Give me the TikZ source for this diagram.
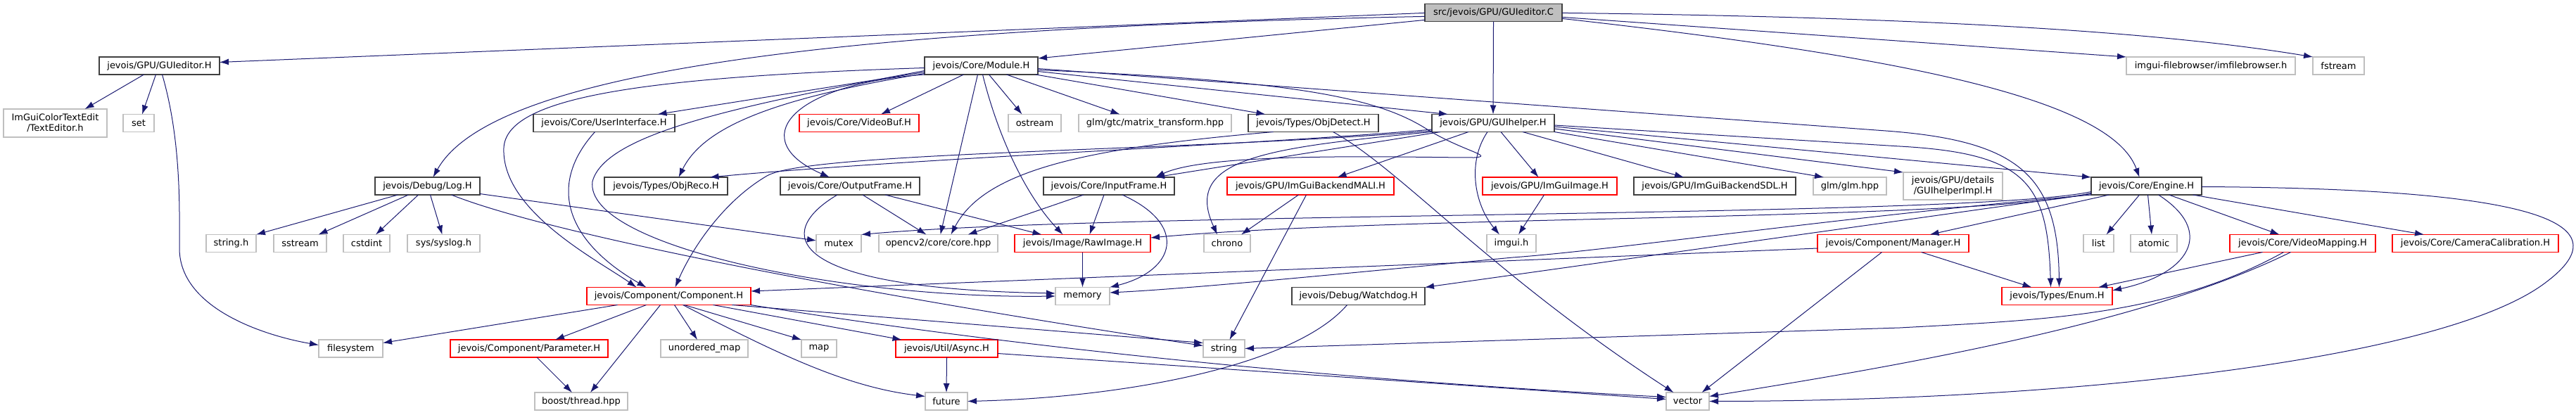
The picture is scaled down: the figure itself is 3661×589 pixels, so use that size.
\documentclass[tikz,border=0pt]{standalone}
\usepackage{fontspec}
\setmainfont{DejaVu Sans}
\usepackage{tikz}
\usetikzlibrary{arrows.meta,positioning}
\definecolor{dotblue}{HTML}{191970}
\definecolor{dotdark}{HTML}{404040}
\definecolor{dotlight}{HTML}{BFBFBF}

\begin{document}
\begin{tikzpicture}[
  x=1pt, y=-1pt,
  font=\fontsize{13pt}{15pt}\selectfont,
  hdr/.style={draw=dotdark, line width=1.1pt, fill=white, align=center, minimum height=25pt, inner xsep=1pt, inner ysep=1pt, outer sep=0pt},
  cuthdr/.style={hdr, draw=red},
  syshdr/.style={hdr, draw=dotlight},
  srchdr/.style={hdr, fill=dotlight},
  dep/.style={-{Latex[length=13pt,width=9pt]}, draw=dotblue, line width=1pt}
]
\useasboundingbox (0,0) rectangle (3661,589);

\node[srchdr, minimum width=195pt] (root) at (2122.5,18.4) {src/jevois/GPU/GUIeditor.C};

\node[hdr, minimum width=171pt] (gedh) at (226.5,93.5) {jevois/GPU/GUIeditor.H};
\node[hdr, minimum width=161pt, right=1002pt of gedh] (module) {jevois/Core/Module.H};
\node[syshdr, minimum width=240pt, right=1547pt of module] (filebr) {imgui-filebrowser/imfilebrowser.h};
\node[syshdr, minimum width=73pt, right=25pt of filebr] (fstream) {fstream};

\node[syshdr, minimum width=147pt, minimum height=40pt] (texted) at (78.5,175) {ImGuiColorTextEdit\\/TextEditor.h};
\node[syshdr, minimum width=44pt, right=23pt of texted] (set) {set};
\node[hdr, minimum width=201pt, right=539pt of set] (uiface) {jevois/Core/UserInterface.H};
\node[cuthdr, minimum width=170pt, right=177pt of uiface] (videobuf) {jevois/Core/VideoBuf.H};
\node[syshdr, minimum width=75pt, right=127pt of videobuf] (ostream) {ostream};
\node[syshdr, minimum width=217pt, right=25pt of ostream] (glmgtc) {glm/gtc/matrix\_transform.hpp};
\node[hdr, minimum width=185pt, right=24pt of glmgtc] (objdetect) {jevois/Types/ObjDetect.H};
\node[hdr, minimum width=174pt, right=76pt of objdetect] (guihelper) {jevois/GPU/GUIhelper.H};

\node[hdr, minimum width=149pt] (log) at (607.5,264.5) {jevois/Debug/Log.H};
\node[hdr, minimum width=175pt, right=177pt of log] (objreco) {jevois/Types/ObjReco.H};
\node[hdr, minimum width=198pt, right=75pt of objreco] (outframe) {jevois/Core/OutputFrame.H};
\node[hdr, minimum width=186pt, right=176pt of outframe] (inframe) {jevois/Core/InputFrame.H};
\node[cuthdr, minimum width=237pt, right=75pt of inframe] (mali) {jevois/GPU/ImGuiBackendMALI.H};
\node[cuthdr, minimum width=191pt, right=126pt of mali] (imguiimg) {jevois/GPU/ImGuiImage.H};
\node[hdr, minimum width=230pt, right=24pt of imguiimg] (sdl) {jevois/GPU/ImGuiBackendSDL.H};
\node[syshdr, minimum width=104pt, right=25pt of sdl] (glm) {glm/glm.hpp};
\node[syshdr, minimum width=141pt, minimum height=39pt, right=24pt of glm] (guiimpl) {jevois/GPU/details\\/GUIhelperImpl.H};
\node[hdr, minimum width=157pt, right=126pt of guiimpl] (engine) {jevois/Core/Engine.H};

\node[syshdr, minimum width=71pt] (stringh) at (328.5,346) {string.h};
\node[syshdr, minimum width=75pt, right=25pt of stringh] (sstream) {sstream};
\node[syshdr, minimum width=66pt, right=24pt of sstream] (cstdint) {cstdint};
\node[syshdr, minimum width=103pt, right=25pt of cstdint] (syslog) {sys/syslog.h};
\node[syshdr, minimum width=64pt, right=478pt of syslog] (mutex) {mutex};
\node[syshdr, minimum width=169pt, right=25pt of mutex] (cvcore) {opencv2/core/core.hpp};
\node[cuthdr, minimum width=193pt, right=24pt of cvcore] (rawimage) {jevois/Image/RawImage.H};
\node[syshdr, minimum width=66pt, right=76pt of rawimage] (chrono) {chrono};
\node[syshdr, minimum width=70pt, right=336pt of chrono] (imguih) {imgui.h};
\node[cuthdr, minimum width=215pt, right=400pt of imguih] (manager) {jevois/Component/Manager.H};
\node[syshdr, minimum width=43pt, right=163pt of manager] (list) {list};
\node[syshdr, minimum width=66pt, right=24pt of list] (atomic) {atomic};
\node[cuthdr, minimum width=207pt, right=75pt of atomic] (vmapping) {jevois/Core/VideoMapping.H};
\node[cuthdr, minimum width=236pt, right=24pt of vmapping] (camcal) {jevois/Core/CameraCalibration.H};

\node[cuthdr, minimum width=233pt] (component) at (950.5,421) {jevois/Component/Component.H};
\node[syshdr, minimum width=77pt, right=433pt of component] (memory) {memory};
\node[hdr, minimum width=189pt, right=259pt of memory] (watchdog) {jevois/Debug/Watchdog.H};
\node[cuthdr, minimum width=157pt, right=820pt of watchdog] (enum) {jevois/Types/Enum.H};

\node[syshdr, minimum width=91pt] (filesystem) at (498.5,495.5) {filesystem};
\node[cuthdr, minimum width=224pt, right=96pt of filesystem] (parameter) {jevois/Component/Parameter.H};
\node[syshdr, minimum width=124pt, right=75pt of parameter] (unordmap) {unordered\_map};
\node[syshdr, minimum width=50pt, right=76pt of unordmap] (map) {map};
\node[cuthdr, minimum width=145pt, right=84pt of map] (async) {jevois/Util/Async.H};
\node[syshdr, minimum width=59pt, right=292pt of async] (string) {string};

\node[syshdr, minimum width=132pt] (boost) at (826,570.5) {boost/thread.hpp};
\node[syshdr, minimum width=60pt, right=423pt of boost] (future) {future};
\node[syshdr, minimum width=61pt, right=993pt of future] (vector) {vector};

\draw[dep] (root.west) -- ([yshift=5pt]gedh.east);
\draw[dep] ([yshift=-5pt]root.west) .. controls (1200,40) and (700,100) .. ([xshift=8pt]log.north);
\draw[dep] ([yshift=-10pt]root.west) -- ([yshift=-2pt]module.north east);
\draw[dep] (root.south) -- (guihelper.north);
\draw[dep] ([yshift=-6pt]root.east) -- (filebr.north west);
\draw[dep] (root.east) .. controls (2800,25) and (3100,50) .. (fstream.north west);
\draw[dep] ([yshift=-8pt]root.east) .. controls (2700,80) and (3000,140) .. ([xshift=-10pt]engine.north);

\draw[dep] ([xshift=-22pt]gedh.south) -- ([xshift=42pt]texted.north);
\draw[dep] ([xshift=-5pt]gedh.south) -- ([xshift=5pt]set.north);
\draw[dep] ([xshift=4pt]gedh.south) .. controls (258,200) and (255,300) .. (255,353) .. controls (255,440) and (380,478) .. ([yshift=5pt]filesystem.west);

\draw[dep] ([yshift=-3pt]module.west) .. controls (900,110) and (720,140) .. (716,210) .. controls (712,300) and (850,370) .. ([xshift=-46pt]component.north);
\draw[dep] ([yshift=-7pt]module.west) .. controls (1050,150) and (860,190) .. (842,258) .. controls (830,350) and (1200,425) .. (memory.west);
\draw[dep] ([yshift=-9pt]module.west) -- ([xshift=76pt]uiface.north);
\draw[dep] ([yshift=-11pt]module.west) .. controls (1100,140) and (1000,180) .. ([xshift=18pt]objreco.north);
\draw[dep] (module.south west) .. controls (1120,120) and (1060,200) .. ([xshift=-29pt]outframe.north);
\draw[dep] ([xshift=-25pt]module.south) -- ([xshift=31pt]videobuf.north);
\draw[dep] ([xshift=-5pt]module.south) -- ([xshift=3pt]cvcore.north);
\draw[dep] ([xshift=2pt]module.south) .. controls (1420,200) and (1460,280) .. ([xshift=-28pt]rawimage.north);
\draw[dep] ([xshift=11pt]module.south) -- ([xshift=-18pt]ostream.north);
\draw[dep] ([xshift=36pt]module.south) -- ([xshift=-50pt]glmgtc.north);
\draw[dep] ([xshift=-3pt]module.south east) -- ([xshift=-68pt]objdetect.north);
\draw[dep] ([yshift=-8pt]module.east) -- ([xshift=-64pt]guihelper.north);
\draw[dep] ([yshift=-4pt]module.east) -- (2680,186) .. controls (2870,200) and (2925,250) .. ([xshift=3pt]enum.north);
\draw[dep] ([yshift=-6pt]module.east) .. controls (1850,115) and (1960,140) .. (2030,185) .. controls (2080,215) and (2125,222) .. (2095,224) .. controls (2000,224) and (1720,215) .. ([xshift=66pt]inframe.north);

\draw[dep] ([yshift=-11pt]guihelper.west) .. controls (1700,215) and (1150,215) .. (1090,250) .. controls (1030,285) and (985,350) .. ([xshift=9pt]component.north);
\draw[dep] ([yshift=-9pt]guihelper.west) .. controls (1800,205) and (1300,225) .. ([xshift=62pt]objreco.north);
\draw[dep] ([xshift=-75pt]guihelper.south) -- ([xshift=66pt]inframe.north);
\draw[dep] (guihelper.south west) .. controls (1800,210) and (1680,225) .. ([xshift=-14pt]chrono.north);
\draw[dep] ([xshift=-35pt]guihelper.south) -- ([xshift=38pt]mali.north);
\draw[dep] ([xshift=-8pt]guihelper.south) .. controls (2085,230) and (2095,290) .. ([xshift=-17pt]imguih.north);
\draw[dep] ([xshift=11pt]guihelper.south) -- ([xshift=-16pt]imguiimg.north);
\draw[dep] ([xshift=42pt]guihelper.south) -- ([xshift=-44pt]sdl.north);
\draw[dep] (guihelper.south east) -- ([xshift=-37pt]glm.north);
\draw[dep] ([yshift=-8pt]guihelper.east) -- (guiimpl.north west);
\draw[dep] ([yshift=-5pt]guihelper.east) -- (engine.north west);
\draw[dep] ([yshift=-3pt]guihelper.east) -- (2700,208) .. controls (2880,218) and (2910,260) .. ([xshift=-9pt]enum.north);

\draw[dep] ([xshift=-57pt]objdetect.south) .. controls (1550,210) and (1400,240) .. ([xshift=18pt]cvcore.north);
\draw[dep] ([xshift=28pt]objdetect.south) .. controls (1990,240) and (2120,390) .. ([xshift=-20pt]vector.north);

\draw[dep] ([xshift=-42pt]log.south) -- (stringh.north east);
\draw[dep] ([xshift=-27pt]log.south) -- ([xshift=26pt]sstream.north);
\draw[dep] ([xshift=-13pt]log.south) -- ([xshift=13pt]cstdint.north);
\draw[dep] ([xshift=4pt]log.south) -- ([xshift=-2pt]syslog.north);
\draw[dep] ([yshift=-11pt]log.east) -- ([yshift=4pt]mutex.west);
\draw[dep] ([xshift=34pt]log.south) .. controls (800,340) and (1300,430) .. ([yshift=4pt]string.west);

\draw[dep] ([xshift=-13pt]uiface.south) .. controls (780,260) and (800,340) .. ([xshift=-32pt]component.north);

\draw[dep] ([xshift=18pt]outframe.south) -- ([xshift=-17pt]cvcore.north);
\draw[dep] ([xshift=50pt]outframe.south) -- ([xshift=-58pt]rawimage.north);
\draw[dep] ([xshift=-18pt]outframe.south) .. controls (1100,330) and (1110,410) .. ([yshift=4pt]memory.west);

\draw[dep] ([xshift=-36pt]inframe.south) -- ([xshift=42pt]cvcore.north);
\draw[dep] ([xshift=-7pt]inframe.south) -- ([xshift=10pt]rawimage.north);
\draw[dep] ([xshift=19pt]inframe.south) .. controls (1690,320) and (1670,385) .. (memory.north east);
\draw[dep] (rawimage.south) -- (memory.north);

\draw[dep] ([xshift=-17pt]mali.south) -- ([xshift=20pt]chrono.north);
\draw[dep] ([xshift=-6pt]mali.south) -- ([xshift=8pt]string.north);
\draw[dep] ([xshift=-8pt]imguiimg.south) -- ([xshift=10pt]imguih.north);

\draw[dep] ([yshift=-8pt]engine.west) .. controls (2800,310) and (1600,300) .. (mutex.north east);
\draw[dep] ([yshift=-10pt]engine.west) .. controls (2800,315) and (2000,305) .. ([yshift=8pt]rawimage.east);
\draw[dep] ([yshift=-11pt]engine.west) -- (watchdog.north east);
\draw[dep] (engine.south west) .. controls (2600,310) and (2300,355) .. (2150,366) .. controls (1950,385) and (1700,410) .. ([yshift=5pt]memory.east);
\draw[dep] ([xshift=-53pt]engine.south) -- ([xshift=52pt]manager.north);
\draw[dep] ([xshift=-10pt]engine.south) -- ([xshift=11pt]list.north);
\draw[dep] ([xshift=2pt]engine.south) -- ([xshift=-3pt]atomic.north);
\draw[dep] ([xshift=17pt]engine.south) .. controls (3150,330) and (3110,390) .. ([yshift=8pt]enum.east);
\draw[dep] ([xshift=32pt]engine.south) -- ([xshift=-33pt]vmapping.north);
\draw[dep] ([xshift=66pt]engine.south) -- ([xshift=-73pt]camcal.north);
\draw[dep] ([yshift=-1pt]engine.east) .. controls (3620,268) and (3725,320) .. (3620,400) .. controls (3480,510) and (2950,570) .. (vector.east);

\draw[dep] ([xshift=40pt]manager.south) -- ([xshift=-36pt]enum.north);
\draw[dep] ([xshift=-16pt]manager.south) -- ([xshift=20pt]vector.north);
\draw[dep] ([yshift=-7pt]manager.west) -- ([yshift=7pt]component.east);

\draw[dep] ([xshift=-57pt]vmapping.south) -- ([xshift=-20pt]enum.north east);
\draw[dep] ([xshift=-27pt]vmapping.south) .. controls (3080,450) and (2900,455) .. (2700,466) -- (string.east);
\draw[dep] ([xshift=-17pt]vmapping.south) .. controls (3050,460) and (2700,520) .. ([yshift=7pt]vector.east);

\draw[dep] ([xshift=-16pt]watchdog.south) .. controls (1840,520) and (1600,565) .. (future.east);

\draw[dep] ([xshift=-73pt]component.south) -- ([yshift=8pt]filesystem.east);
\draw[dep] ([xshift=-32pt]component.south) -- ([xshift=37pt]parameter.north);
\draw[dep] ([xshift=-12pt]component.south) -- ([xshift=13pt]boost.north);
\draw[dep] ([xshift=8pt]component.south) -- ([xshift=-10pt]unordmap.north);
\draw[dep] ([xshift=22pt]component.south) -- (map.north west);
\draw[dep] ([xshift=20pt]component.south) .. controls (1100,500) and (1200,550) .. ([yshift=7pt]future.west);
\draw[dep] ([xshift=63pt]component.south) -- ([xshift=-64pt]async.north);
\draw[dep] ([xshift=90pt]component.south) -- ([yshift=8pt]string.west);
\draw[dep] (component.south east) .. controls (1450,495) and (1900,540) .. ([yshift=6pt]vector.west);

\draw[dep] ([xshift=11pt]parameter.south) -- ([xshift=-13pt]boost.north);
\draw[dep] (async.south) -- (future.north);
\draw[dep] ([yshift=-7pt]async.east) -- ([yshift=3pt]vector.west);
\end{tikzpicture}
\end{document}
